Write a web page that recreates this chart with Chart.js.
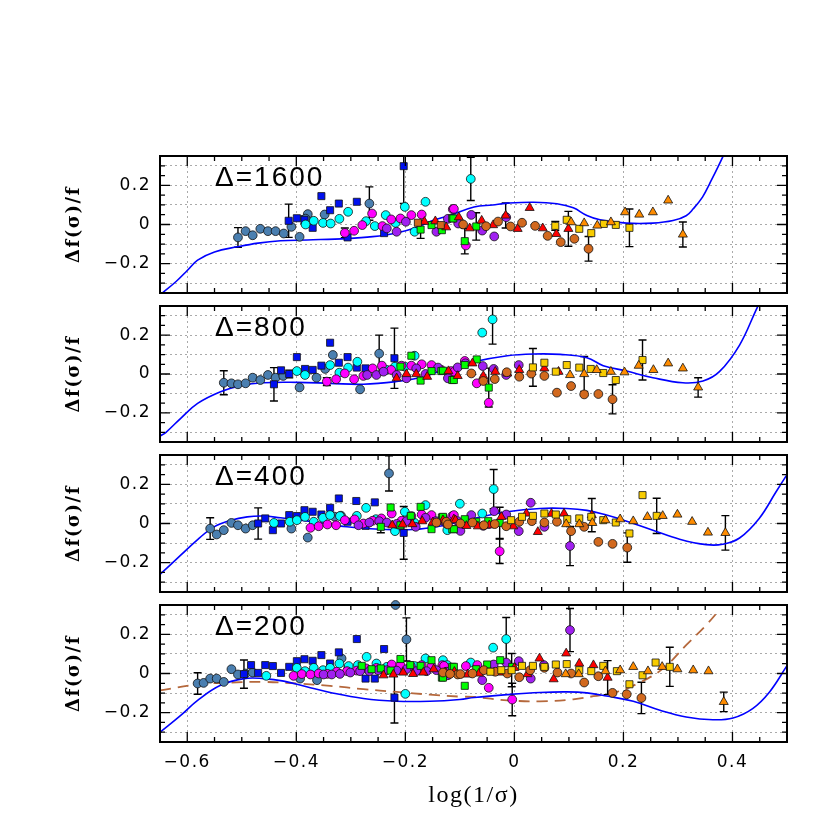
<!DOCTYPE html>
<html>
<head>
<meta charset="utf-8">
<script src="https://cdn.jsdelivr.net/npm/chart.js@4.4.1/dist/chart.umd.min.js"></script>
<style>
  body { margin: 0; background: #fff; }
  #wrap { position: relative; width: 830px; height: 830px; }
  #wrap canvas { position: absolute; left: 0; top: 0; }
</style>
</head>
<body>
<div id="wrap">
  <canvas id="p1" width="830" height="830"></canvas>
  <canvas id="p2" width="830" height="830"></canvas>
  <canvas id="p3" width="830" height="830"></canvas>
  <canvas id="p4" width="830" height="830"></canvas>
</div>
<script>
// axis ranges and tick labels
const xMin = -0.65, xMax = 0.5;
const yMin = -0.35, yMax = 0.35;
const xTickLabels = [-0.6, -0.4, -0.2, 0, 0.2, 0.4];
const yGridValues = [-0.3, -0.2, -0.1, 0, 0.1, 0.2, 0.3];
const yTickLabels = [-0.2, 0, 0.2];
const panelLabels = ["Δ=1600", "Δ=800", "Δ=400", "Δ=200"];

// points are [x, y, error] (error optional)
// ---- panel 1 (Δ=1600)
const p1Steel = [[-0.507,-0.066,0.05],[-0.493,-0.034],[-0.480,-0.055],[-0.466,-0.022],[-0.452,-0.034],[-0.438,-0.034],[-0.423,-0.046],[-0.409,-0.012],[-0.394,-0.063],[-0.379,0.053],[-0.383,0.03],[-0.348,0.051],[-0.266,0.107,0.085]];
const p1Blue = [[-0.414,0.019,0.085],[-0.399,0.032],[-0.385,0.024,0.02],[-0.370,-0.017],[-0.354,0.145],[-0.338,0.073],[-0.322,0.107],[-0.289,0.116],[-0.306,-0.066],[-0.239,-0.044],[-0.203,0.298,0.19]];
const p1Cyan = [[-0.383,0.0],[-0.368,0.019],[-0.351,0.008],[-0.337,0.005],[-0.321,0.029],[-0.305,0.065],[-0.272,0.017],[-0.256,-0.008],[-0.236,0.048],[-0.218,0.008],[-0.201,0.090],[-0.183,-0.037],[-0.163,0.116],[-0.080,0.233,0.11]];
const p1Mag = [[-0.311,-0.043,0.025],[-0.294,-0.032],[-0.279,-0.003],[-0.261,0.056],[-0.242,-0.008],[-0.226,0.026],[-0.209,0.031],[-0.189,0.048],[-0.170,0.051],[-0.113,0.078],[-0.111,0.080],[-0.089,-0.107]];
const p1Purp = [[-0.234,-0.020],[-0.216,-0.037],[-0.199,0.014],[-0.143,-0.037],[-0.122,0.029],[-0.103,0.005],[-0.079,0.049],[-0.059,-0.031],[-0.037,-0.061],[-0.015,0.037]];
const p1Green = [[-0.172,-0.026,0.045],[-0.152,-0.003],[-0.133,-0.029],[-0.114,0.031],[-0.112,0.031],[-0.091,-0.085,0.065],[-0.070,-0.010,0.07]];
const p1Red = [[-0.165,0.014],[-0.145,0.017],[-0.125,-0.014],[-0.102,0.037],[-0.082,-0.019],[-0.060,0.020],[-0.039,-0.003],[-0.016,0.046,0.064],[0.006,-0.022],[0.028,0.085],[0.052,-0.019],[0.077,-0.048],[0.099,-0.022,0.089]];
const p1BrSq = [[-0.177,0.009],[-0.135,-0.003]];
const p1Brown = [[-0.094,0.0],[-0.052,-0.009],[-0.030,0.015],[-0.007,-0.010],[0.014,0.009],[0.038,-0.007],[0.061,-0.058],[0.085,-0.090],[0.110,-0.073],[0.136,-0.124,0.063]];
const p1Gold = [[0.075,-0.007,0.023],[0.096,0.024],[0.119,-0.022],[0.141,-0.044],[0.164,0.003],[0.186,-0.002],[0.211,-0.017,0.096]];
const p1Orange = [[0.104,0.012],[0.128,0.007],[0.152,-0.005],[0.177,0.012],[0.203,0.063],[0.229,0.051],[0.254,0.063],[0.282,0.123],[0.309,-0.051,0.064]];
const p1Curve = [[-0.65,-0.36],[-0.62,-0.29],[-0.6,-0.235],[-0.581,-0.182],[-0.55,-0.14],[-0.508,-0.114],[-0.47,-0.095],[-0.429,-0.083],[-0.38,-0.079],[-0.307,-0.072],[-0.26,-0.062],[-0.216,-0.043],[-0.18,-0.015],[-0.15,0.02],[-0.12,0.045],[-0.074,0.089],[-0.04,0.1],[-0.013,0.109],[0.035,0.114],[0.078,0.106],[0.108,0.085],[0.133,0.046],[0.157,0.024],[0.206,0.007],[0.254,0.007],[0.291,0.02],[0.315,0.045],[0.328,0.08],[0.345,0.14],[0.358,0.208],[0.382,0.344],[0.39,0.4]];

// ---- panel 2 (Δ=800)
const p2Steel = [[-0.533,-0.045,0.062],[-0.519,-0.048],[-0.507,-0.053],[-0.493,-0.048],[-0.480,-0.019],[-0.466,-0.031],[-0.452,-0.005],[-0.438,-0.019],[-0.424,-0.010],[-0.394,-0.069],[-0.363,-0.019],[-0.347,0.026],[-0.333,0.098],[-0.283,-0.079],[-0.248,0.105,0.095]];
const p2Blue = [[-0.441,-0.053,0.086],[-0.428,0.019],[-0.413,0.0,0.02],[-0.399,0.087],[-0.384,0.026],[-0.370,0.021],[-0.354,0.043],[-0.338,0.161],[-0.322,0.058],[-0.306,0.087],[-0.289,0.033],[-0.273,0.029],[-0.220,0.081,0.155]];
const p2Cyan = [[-0.399,0.015],[-0.384,-0.005],[-0.338,0.046],[-0.321,0.007],[-0.305,0.033],[-0.288,0.063],[-0.234,0.021],[-0.219,0.038],[-0.201,0.038],[-0.183,0.094],[-0.059,0.213],[-0.040,0.281,0.127]];
const p2Mag = [[-0.344,-0.039,0.02],[-0.327,-0.027],[-0.311,0.003],[-0.294,-0.027],[-0.277,-0.010],[-0.260,0.029],[-0.243,0.043],[-0.226,0.021],[-0.207,0.043],[-0.189,0.043],[-0.170,0.050],[-0.152,0.046],[-0.134,0.021],[-0.116,0.015],[-0.110,0.012],[-0.091,0.067],[-0.069,-0.048],[-0.047,-0.148]];
const p2Purp = [[-0.270,-0.005],[-0.253,-0.005],[-0.240,0.012],[-0.216,-0.005],[-0.198,-0.022],[-0.180,0.029],[-0.163,0.0],[-0.140,0.033],[-0.122,-0.022],[-0.104,0.034],[-0.090,0.055],[-0.058,0.041],[-0.038,0.026],[-0.015,-0.005],[0.008,0.046]];
const p2Green = [[-0.209,0.038],[-0.189,0.094],[-0.172,-0.034],[-0.152,0.015],[-0.134,0.015],[-0.114,-0.031],[-0.131,0.017],[-0.111,-0.031],[-0.091,0.046],[-0.069,0.075],[-0.047,-0.070,0.1]];
const p2Red = [[-0.216,-0.022],[-0.198,0.0],[-0.180,0.0],[-0.160,-0.014],[-0.121,0.015],[-0.104,-0.010],[-0.077,0.055],[-0.057,-0.010],[-0.035,0.012],[-0.013,0.003],[0.009,0.021],[0.055,0.029],[0.081,0.012]];
const p2Brown = [[-0.079,0.003],[-0.057,-0.036],[-0.036,-0.026],[-0.014,0.009],[0.009,-0.014],[0.031,0.002],[0.055,-0.010],[0.078,-0.096],[0.104,-0.062],[0.128,-0.105],[0.154,-0.103],[0.180,-0.130,0.075]];
const p2Gold = [[0.034,0.034,0.097],[0.055,0.058],[0.076,0.012],[0.096,0.046],[0.119,0.033],[0.140,0.026],[0.163,0.005],[0.186,-0.031],[0.235,0.072,0.103]];
const p2Orange = [[0.102,-0.005],[0.128,0.0,0.09],[0.151,0.021],[0.177,0.012],[0.202,0.009],[0.228,0.043],[0.255,0.021],[0.282,0.055],[0.309,0.029],[0.337,-0.069,0.05]];
const p2Curve = [[-0.65,-0.32],[-0.639,-0.30],[-0.612,-0.228],[-0.581,-0.151],[-0.539,-0.091],[-0.502,-0.060],[-0.46,-0.045],[-0.399,-0.043],[-0.338,-0.048],[-0.277,-0.053],[-0.216,-0.039],[-0.174,-0.019],[-0.135,0.015],[-0.074,0.063],[-0.013,0.094],[0.035,0.103],[0.084,0.101],[0.133,0.084],[0.163,0.043],[0.206,0.015],[0.254,-0.019],[0.309,-0.045],[0.346,-0.036],[0.376,0.012],[0.413,0.149],[0.446,0.346],[0.46,0.42]];

// ---- panel 3 (Δ=400)
const p3Steel = [[-0.558,-0.026,0.055],[-0.546,-0.056],[-0.533,-0.034],[-0.519,0.003],[-0.507,-0.009],[-0.493,-0.026],[-0.480,-0.009],[-0.409,-0.026],[-0.379,-0.072],[-0.330,0.035],[-0.318,0.04],[-0.230,0.256,0.09]];
const p3Blue = [[-0.470,0.0,0.08],[-0.457,0.026],[-0.443,-0.034],[-0.428,0.0],[-0.413,0.043],[-0.399,0.038],[-0.385,0.068],[-0.370,0.060],[-0.354,0.046],[-0.338,0.080],[-0.322,0.128],[-0.306,0.009],[-0.290,0.115],[-0.273,-0.012],[-0.256,0.108],[-0.203,-0.048,0.135]];
const p3Cyan = [[-0.441,0.003],[-0.412,0.009],[-0.399,0.017],[-0.384,0.034],[-0.368,0.009],[-0.351,0.029],[-0.338,0.043],[-0.320,0.038],[-0.289,0.039],[-0.272,0.080],[-0.254,0.022],[-0.219,-0.039],[-0.201,0.060],[-0.183,0.003],[-0.163,0.094],[-0.131,0.026],[-0.123,-0.034],[-0.100,0.101],[-0.059,0.051],[-0.038,0.176,0.1]];
const p3Mag = [[-0.374,-0.022],[-0.359,-0.014],[-0.343,-0.005],[-0.327,-0.009],[-0.311,0.017],[-0.293,0.021],[-0.277,0.0],[-0.260,0.014],[-0.244,0.026],[-0.225,0.051],[-0.207,0.014],[-0.189,0.038],[-0.170,0.046],[-0.152,0.043],[-0.134,0.017],[-0.114,0.038],[-0.111,0.043],[-0.047,-0.003],[-0.027,-0.142,0.062]];
const p3Purp = [[-0.286,-0.009],[-0.266,0.005],[-0.248,0.012],[-0.234,0.005],[-0.216,-0.002],[-0.198,0.012],[-0.181,-0.017],[-0.163,0.029],[-0.144,0.012],[-0.125,0.0],[-0.104,0.012],[-0.099,-0.038],[-0.079,0.043],[-0.057,-0.012],[-0.037,0.063],[-0.015,0.046],[0.008,-0.039],[0.030,0.106],[0.055,-0.017],[0.102,-0.115,0.1]];
const p3Green = [[-0.245,-0.017,0.03],[-0.227,0.082],[-0.209,-0.009],[-0.190,0.039],[-0.172,0.085],[-0.152,-0.029],[-0.133,0.031],[-0.114,-0.029],[-0.131,0.034],[-0.111,-0.029],[-0.091,0.022],[-0.070,0.009],[-0.048,0.012],[-0.027,0.003,0.08]];
const p3Red = [[-0.224,-0.009],[-0.205,-0.005],[-0.187,-0.003],[-0.169,0.012],[-0.150,0.005],[-0.131,0.017],[-0.111,0.022],[-0.108,0.017],[-0.088,-0.012],[-0.067,-0.014],[-0.046,-0.009],[-0.024,0.034],[-0.002,-0.014],[0.022,0.051],[0.043,-0.043],[0.068,0.050],[0.091,0.051],[0.142,0.043,0.085]];
const p3Brown = [[-0.143,0.005],[-0.125,0.009],[-0.122,-0.005],[-0.099,0.0],[-0.077,0.005],[-0.056,-0.009],[-0.036,-0.003],[-0.015,-0.014],[0.009,0.009],[0.032,0.012],[0.055,0.005],[0.078,0.009],[0.104,-0.039],[0.128,-0.017],[0.154,-0.094],[0.180,-0.104],[0.207,-0.123,0.075]];
const p3Gold = [[-0.006,0.017],[0.014,0.034],[0.034,0.039],[0.055,0.051],[0.076,0.046],[0.097,0.022],[0.119,0.026],[0.141,0.034],[0.163,0.017],[0.186,0.005],[0.211,-0.051],[0.235,0.145],[0.261,0.039,0.09]];
const p3Orange = [[0.095,-0.003],[0.119,-0.003],[0.143,0.003],[0.167,0.017],[0.194,0.022],[0.218,0.012],[0.244,0.034],[0.272,0.039],[0.299,0.046],[0.326,0.009],[0.355,-0.046],[0.387,-0.048,0.088]];
const p3Curve = [[-0.65,-0.26],[-0.612,-0.162],[-0.581,-0.082],[-0.551,-0.017],[-0.52,0.017],[-0.49,0.034],[-0.46,0.038],[-0.429,0.029],[-0.368,0.009],[-0.307,-0.017],[-0.247,-0.029],[-0.186,-0.031],[-0.13,-0.01],[-0.074,0.026],[-0.013,0.06],[0.047,0.077],[0.096,0.077],[0.133,0.067],[0.169,0.043],[0.206,0.012],[0.254,-0.034],[0.303,-0.08],[0.352,-0.108],[0.382,-0.106],[0.413,-0.074],[0.449,0.026],[0.48,0.162],[0.5,0.25]];

// ---- panel 4 (Δ=200)
const p4Steel = [[-0.581,-0.051,0.055],[-0.570,-0.048],[-0.558,-0.026],[-0.546,-0.026],[-0.533,-0.043],[-0.519,0.022],[-0.507,-0.005],[-0.493,0.0],[-0.480,0.005],[-0.393,-0.026],[-0.362,-0.034],[-0.317,0.077],[-0.218,0.350],[-0.198,0.174,0.11]];
const p4Blue = [[-0.496,-0.003,0.072],[-0.483,0.043],[-0.470,0.003],[-0.457,0.043],[-0.443,0.038],[-0.428,0.003],[-0.413,0.034],[-0.399,0.063],[-0.385,0.073],[-0.370,0.065],[-0.354,0.094],[-0.338,0.051],[-0.322,0.108],[-0.306,0.022],[-0.289,0.176],[-0.273,-0.026],[-0.256,-0.026],[-0.239,0.125],[-0.220,-0.123,0.13]];
const p4Cyan = [[-0.455,-0.012],[-0.399,0.029],[-0.384,0.012],[-0.368,0.029],[-0.351,0.017],[-0.338,0.029],[-0.321,0.051],[-0.304,0.038],[-0.287,0.043],[-0.271,0.085],[-0.253,0.051],[-0.234,0.034],[-0.200,-0.104],[-0.183,0.038],[-0.163,0.077],[-0.131,0.068],[-0.123,0.043],[-0.080,0.056],[-0.039,0.132],[-0.015,0.176,0.11]];
const p4Mag = [[-0.405,-0.012],[-0.390,-0.003],[-0.374,-0.005],[-0.359,0.0],[-0.343,-0.002],[-0.326,0.009],[-0.307,0.012],[-0.289,0.015],[-0.272,0.026],[-0.253,0.029],[-0.225,0.046],[-0.209,0.043],[-0.190,0.038],[-0.170,0.043],[-0.152,0.038],[-0.132,0.043],[-0.129,0.039],[-0.089,0.038],[-0.068,0.043],[-0.047,-0.073],[-0.004,-0.133,0.083]];
const p4Purp = [[-0.350,-0.005],[-0.335,-0.005],[-0.320,-0.002],[-0.301,0.005],[-0.283,0.012],[-0.266,0.012],[-0.250,0.017],[-0.234,0.017],[-0.216,0.015],[-0.198,0.022],[-0.180,0.012],[-0.161,0.012],[-0.143,0.017],[-0.125,0.009],[-0.122,-0.009],[-0.059,-0.034],[-0.038,0.046],[-0.015,0.056],[0.008,0.063],[0.030,-0.026],[0.054,0.043],[0.102,0.222,0.11]];
const p4Green = [[-0.280,0.039],[-0.262,0.022],[-0.245,0.026],[-0.227,0.015],[-0.209,0.074],[-0.191,0.043],[-0.172,0.039],[-0.152,0.068],[-0.133,-0.021],[-0.114,0.034],[-0.131,-0.021],[-0.111,0.034],[-0.091,-0.063],[-0.070,0.022],[-0.050,0.046],[-0.026,0.068],[-0.004,0.034]];
const p4Red = [[-0.240,-0.009],[-0.222,-0.005],[-0.204,0.005],[-0.186,-0.002],[-0.167,0.005],[-0.148,0.022],[-0.128,0.003],[-0.110,0.009],[-0.126,0.005],[-0.086,-0.005],[-0.065,0.0],[-0.023,0.005],[0.0,0.029],[0.024,-0.003],[0.046,0.077],[0.072,-0.029],[0.095,0.103],[0.119,0.051],[0.145,0.043],[0.171,-0.021,0.087]];
const p4Brown = [[-0.131,0.005],[-0.104,-0.005],[-0.118,-0.002],[-0.099,-0.003],[-0.077,0.0],[-0.056,0.017],[-0.035,0.009],[-0.013,0.0],[0.009,-0.019],[0.029,0.017],[0.055,0.029],[0.079,0.005],[0.104,0.0],[0.128,-0.046],[0.154,-0.014],[0.180,-0.099],[0.206,-0.106],[0.233,-0.125,0.08]];
const p4Gold = [[-0.044,0.009],[-0.024,0.017],[-0.005,0.017,0.085],[0.014,0.039],[0.034,0.039],[0.055,0.034],[0.076,0.046],[0.096,0.048],[0.119,0.017],[0.141,0.012],[0.163,0.039],[0.188,0.012],[0.211,-0.055],[0.235,-0.009],[0.259,0.056],[0.285,0.034,0.1]];
const p4Orange = [[0.094,-0.003],[0.118,-0.003],[0.167,0.012],[0.194,0.017],[0.218,0.034],[0.245,0.012],[0.271,0.034],[0.299,0.022],[0.328,0.017],[0.356,0.012],[0.384,-0.145,0.05]];
const p4Curve = [[-0.65,-0.3],[-0.612,-0.214],[-0.581,-0.137],[-0.539,-0.06],[-0.496,-0.026],[-0.46,-0.026],[-0.423,-0.039],[-0.381,-0.068],[-0.338,-0.097],[-0.277,-0.128],[-0.216,-0.142],[-0.155,-0.142],[-0.1,-0.133],[-0.074,-0.123],[-0.013,-0.108],[0.047,-0.097],[0.096,-0.094],[0.133,-0.099],[0.169,-0.115],[0.218,-0.142],[0.267,-0.188],[0.315,-0.222],[0.364,-0.236],[0.401,-0.227],[0.437,-0.179],[0.468,-0.094],[0.5,0.04]];
const p4Dash = [[-0.65,-0.086],[-0.581,-0.056],[-0.52,-0.046],[-0.46,-0.043],[-0.399,-0.051],[-0.338,-0.063],[-0.277,-0.080],[-0.216,-0.094],[-0.155,-0.108],[-0.1,-0.118],[-0.074,-0.12],[-0.013,-0.137],[0.047,-0.142],[0.108,-0.132],[0.145,-0.116],[0.188,-0.094],[0.230,-0.046],[0.273,0.026],[0.315,0.145],[0.352,0.248],[0.376,0.325]];

// marker look per series (last drawn on top)
const seriesStyle = {
  steel:  { color: "#4a7fb0", shape: "circle",   r: 4.4 },
  blue:   { color: "#0010f0", shape: "rect",     r: 5.0 },
  cyan:   { color: "#00ffff", shape: "circle",   r: 4.4 },
  mag:    { color: "#ff00ff", shape: "circle",   r: 4.4 },
  purp:   { color: "#a020f0", shape: "circle",   r: 4.4 },
  green:  { color: "#00ff00", shape: "rect",     r: 5.0 },
  red:    { color: "#ff0000", shape: "triangle", r: 5.2 },
  brsq:   { color: "#d2691e", shape: "rect",     r: 5.0 },
  brown:  { color: "#d2691e", shape: "circle",   r: 4.4 },
  gold:   { color: "#f8cc00", shape: "rect",     r: 5.0 },
  orange: { color: "#ff8c00", shape: "triangle", r: 5.2 },
};

const panels = [
  { id: "p1", top: 156, bottom: 293, curve: p1Curve, dash: null,
    series: { steel: p1Steel, blue: p1Blue, cyan: p1Cyan, mag: p1Mag, purp: p1Purp, green: p1Green, red: p1Red, brsq: p1BrSq, brown: p1Brown, gold: p1Gold, orange: p1Orange } },
  { id: "p2", top: 306, bottom: 442, curve: p2Curve, dash: null,
    series: { steel: p2Steel, blue: p2Blue, cyan: p2Cyan, mag: p2Mag, purp: p2Purp, green: p2Green, red: p2Red, brown: p2Brown, gold: p2Gold, orange: p2Orange } },
  { id: "p3", top: 455, bottom: 592, curve: p3Curve, dash: null,
    series: { steel: p3Steel, blue: p3Blue, cyan: p3Cyan, mag: p3Mag, purp: p3Purp, green: p3Green, red: p3Red, brown: p3Brown, gold: p3Gold, orange: p3Orange } },
  { id: "p4", top: 605, bottom: 742, curve: p4Curve, dash: p4Dash,
    series: { steel: p4Steel, blue: p4Blue, cyan: p4Cyan, mag: p4Mag, purp: p4Purp, green: p4Green, red: p4Red, brown: p4Brown, gold: p4Gold, orange: p4Orange } },
];

const toPts = arr => arr.map(([x, y, e]) => ({ x, y, e }));
const fmt = v => Math.abs(v) < 1e-9 ? "0" : (v < 0 ? "\u2212" : "") + Math.abs(v).toFixed(1);

// black error bars with caps, under the markers
const errorBars = {
  id: "errorBars",
  beforeDatasetsDraw(chart) {
    const { ctx, chartArea: a, scales: { x, y } } = chart;
    ctx.save();
    ctx.beginPath();
    ctx.rect(a.left, a.top, a.right - a.left, a.bottom - a.top);
    ctx.clip();
    ctx.strokeStyle = "#000";
    ctx.lineWidth = 1.4;
    chart.data.datasets.forEach(ds => ds.data.forEach(p => {
      if (!p.e) return;
      const px = x.getPixelForValue(p.x);
      const y1 = y.getPixelForValue(p.y + p.e);
      const y2 = y.getPixelForValue(p.y - p.e);
      ctx.beginPath();
      ctx.moveTo(px, y1); ctx.lineTo(px, y2);
      ctx.moveTo(px - 4, y1); ctx.lineTo(px + 4, y1);
      ctx.moveTo(px - 4, y2); ctx.lineTo(px + 4, y2);
      ctx.stroke();
    }));
    ctx.restore();
  }
};

// frame, inward ticks and the Δ label
const frame = {
  id: "frame",
  beforeDraw(chart) {
    chart.ctx.letterSpacing = "1.5px";
  },
  afterDraw(chart, args, opts) {
    const { ctx, chartArea: a, scales: { x, y } } = chart;
    ctx.save();
    ctx.letterSpacing = "0px";
    ctx.strokeStyle = "#000";
    ctx.lineWidth = 1.3;
    ctx.beginPath();
    for (let k = -13; k <= 10; k++) {
      const px = x.getPixelForValue(k * 0.05);
      const len = k % 4 === 0 ? 10 : 5;
      ctx.moveTo(px, a.bottom); ctx.lineTo(px, a.bottom - len);
      ctx.moveTo(px, a.top); ctx.lineTo(px, a.top + len);
    }
    for (let k = -7; k <= 7; k++) {
      const py = y.getPixelForValue(k * 0.05);
      const len = k % 4 === 0 ? 10 : 5;
      ctx.moveTo(a.left, py); ctx.lineTo(a.left + len, py);
      ctx.moveTo(a.right, py); ctx.lineTo(a.right - len, py);
    }
    ctx.stroke();
    ctx.lineWidth = 2;
    ctx.strokeRect(a.left, a.top, a.right - a.left, a.bottom - a.top);
    ctx.fillStyle = "#000";
    ctx.font = '28px "Liberation Sans"';
    ctx.letterSpacing = "2px";
    ctx.textBaseline = "alphabetic";
    ctx.textAlign = "left";
    ctx.fillText(opts.label, 215, a.top + 30);
    ctx.restore();
  }
};

panels.forEach((p, i) => {
  const last = i === panels.length - 1;
  const order = ["orange", "gold", "brown", "brsq", "red", "green", "purp", "mag", "cyan", "blue", "steel"];
  const datasets = [];
  order.forEach(key => {
    if (!p.series[key]) return;
    const s = seriesStyle[key];
    datasets.push({
      data: toPts(p.series[key]),
      pointStyle: s.shape,
      pointRadius: s.r,
      backgroundColor: s.color,
      borderColor: "#111",
      borderWidth: 0.8,
      clip: false,
    });
  });
  datasets.push({
    data: toPts(p.curve), showLine: true, pointRadius: 0,
    borderColor: "#0000ff", borderWidth: 1.6, tension: 0.4,
  });
  if (p.dash) {
    datasets.push({
      data: toPts(p.dash), showLine: true, pointRadius: 0,
      borderColor: "#b5683c", borderWidth: 1.8, borderDash: [11, 7], tension: 0.4,
    });
  }

  const gridOpts = { color: "#aaa", lineWidth: 1, drawTicks: false };
  const borderOpts = { display: false, dash: [2, 3] };
  const tickFont = { family: "DejaVu Sans", size: 17 };

  new Chart(document.getElementById(p.id), {
    type: "scatter",
    data: { datasets },
    options: {
      responsive: false,
      animation: false,
      events: [],
      layout: { padding: { left: 0, right: 43, top: p.top, bottom: last ? 0 : 830 - p.bottom } },
      plugins: {
        legend: { display: false },
        tooltip: { enabled: false },
        frame: { label: panelLabels[i] },
      },
      scales: {
        x: {
          type: "linear", min: xMin, max: xMax,
          afterBuildTicks: s => { s.ticks = xTickLabels.map(v => ({ value: v })); },
          afterFit: s => { s.height = last ? 830 - p.bottom : 0; s.paddingLeft = 0; s.paddingRight = 0; },
          grid: gridOpts, border: borderOpts,
          ticks: { display: last, padding: 10, color: "#000", font: tickFont, autoSkip: false, maxRotation: 0, callback: v => fmt(v) },
          title: { display: last, text: "log(1/σ)", color: "#000", font: { family: "Liberation Serif", size: 24 }, padding: { top: 0, bottom: 20 } },
        },
        y: {
          type: "linear", min: yMin, max: yMax,
          afterBuildTicks: s => { s.ticks = yGridValues.map(v => ({ value: v })); },
          afterFit: s => { s.width = 160; s.paddingTop = 0; s.paddingBottom = 0; },
          grid: gridOpts, border: borderOpts,
          ticks: { padding: 9, color: "#000", font: tickFont, autoSkip: false,
                   callback: v => yTickLabels.some(t => Math.abs(t - v) < 1e-9) ? fmt(v) : "" },
          title: { display: true, text: "Δf(σ)/f", color: "#000", font: { family: "DejaVu Serif", size: 18, weight: "bold" }, padding: { top: 64, bottom: 0 } },
        },
      },
    },
    plugins: [errorBars, frame],
  });
});
</script>
</body>
</html>
